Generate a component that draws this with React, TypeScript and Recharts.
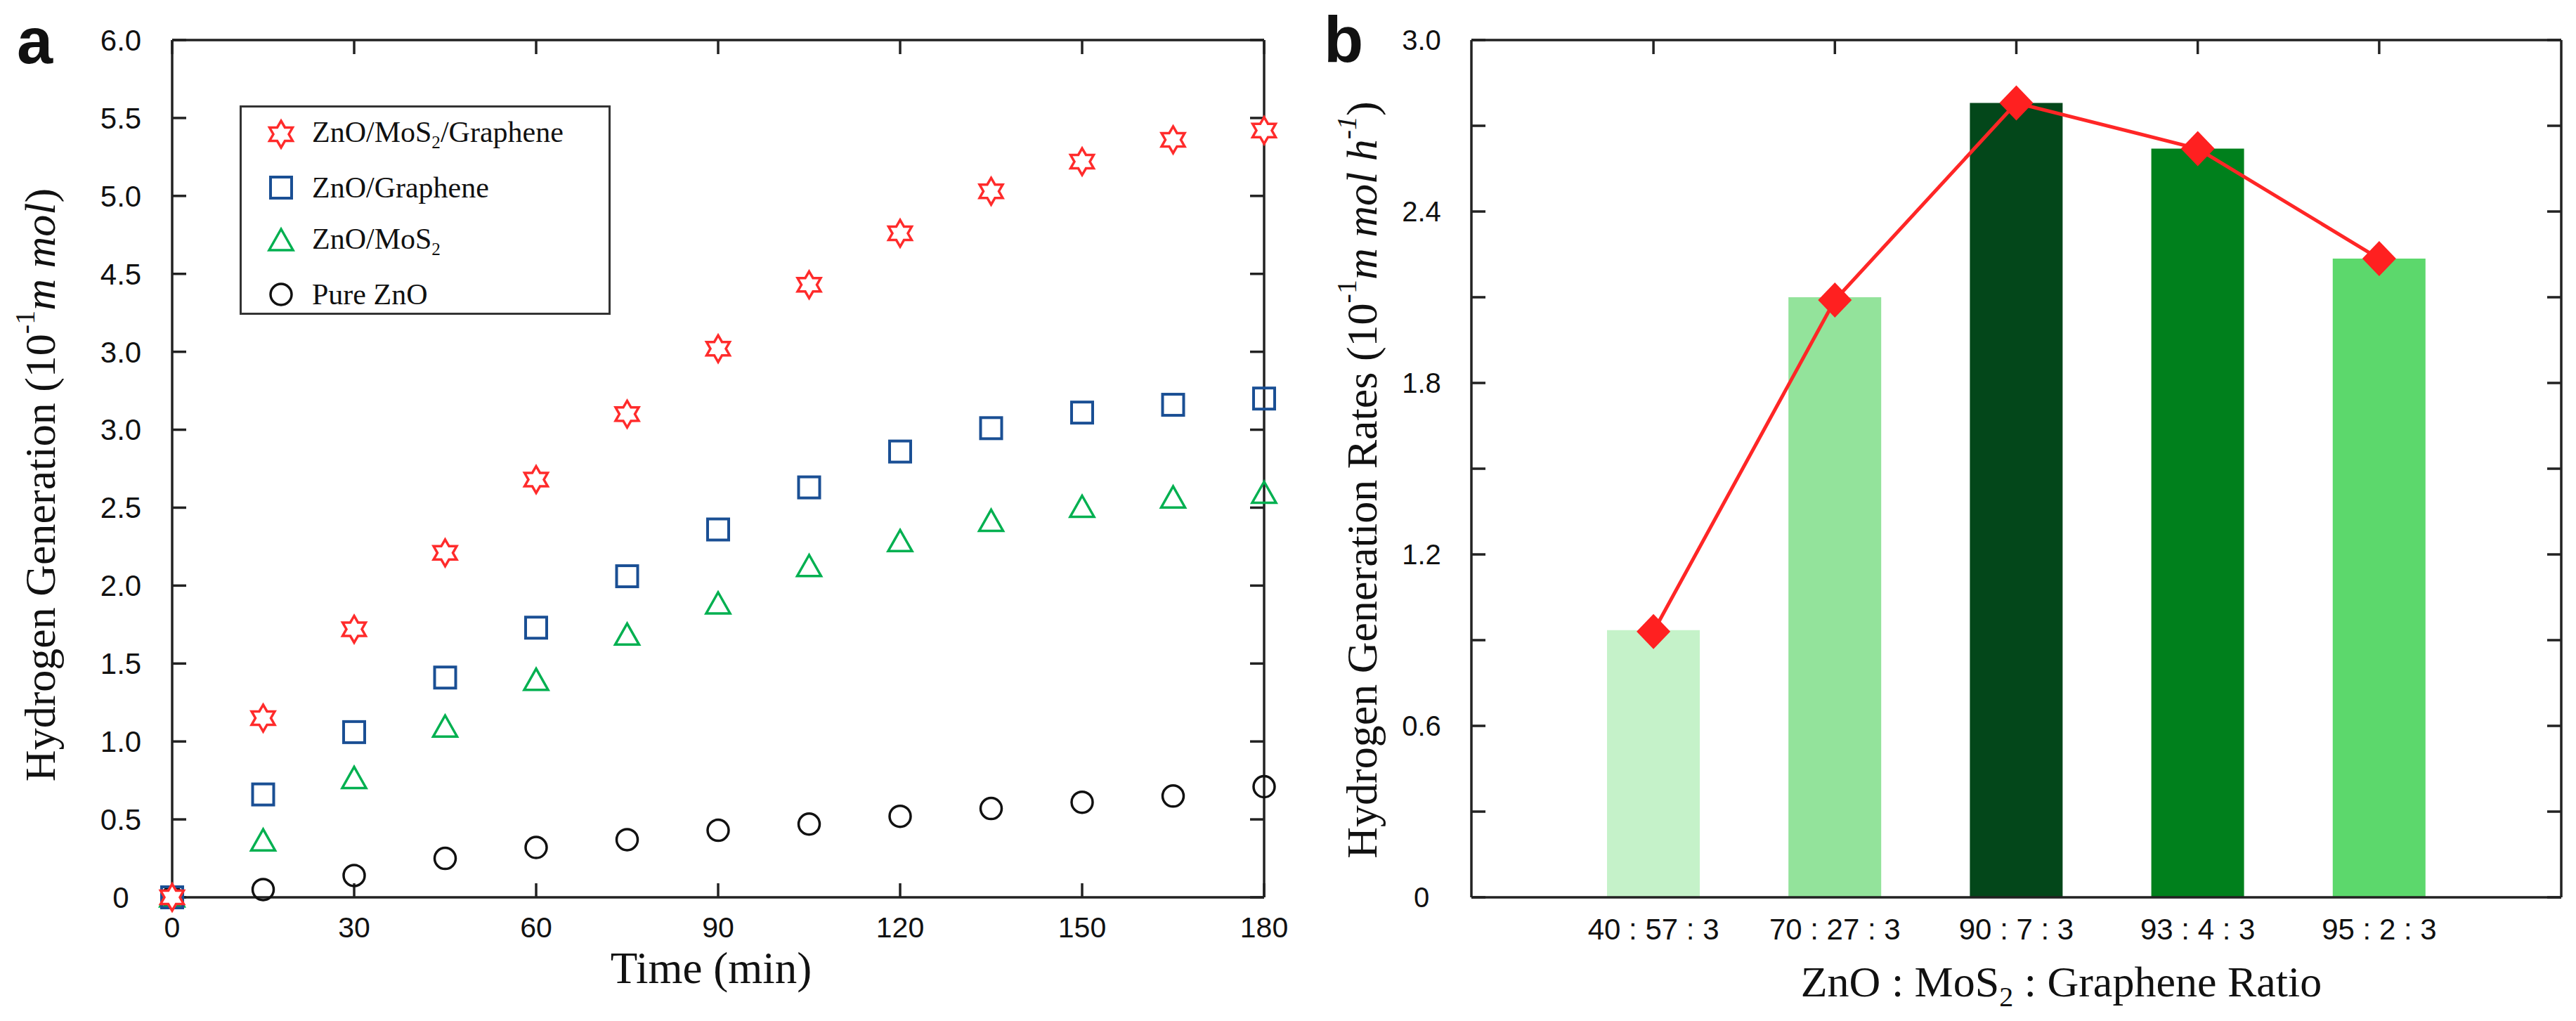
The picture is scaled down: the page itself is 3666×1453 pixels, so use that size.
import {
  ScatterChart,
  Scatter,
  ComposedChart,
  Bar,
  Line,
  Cell,
  XAxis,
  YAxis,
  Legend,
  Label,
} from "recharts";

// ---- panel a: hydrogen generation vs time ----
const times = [0, 15, 30, 45, 60, 75, 90, 105, 120, 135, 150, 165, 180];
// values are in axis position units (the printed labels skip 3.5/4.0, see yTickLabelsA)
const zmgValues = [0, 1.15, 1.72, 2.21, 2.68, 3.1, 3.52, 3.93, 4.26, 4.53, 4.72, 4.86, 4.92];
const zgValues = [0, 0.66, 1.06, 1.41, 1.73, 2.06, 2.36, 2.63, 2.86, 3.01, 3.11, 3.16, 3.2];
const zmValues = [0, 0.36, 0.76, 1.09, 1.39, 1.68, 1.88, 2.12, 2.28, 2.41, 2.5, 2.56, 2.59];
const znoValues = [0, 0.05, 0.14, 0.25, 0.32, 0.37, 0.43, 0.47, 0.52, 0.57, 0.61, 0.65, 0.71];
const xTicksA = [0, 30, 60, 90, 120, 150, 180];
const yTicksA = [0, 0.5, 1, 1.5, 2, 2.5, 3, 3.5, 4, 4.5, 5, 5.5];
const yTickLabelsA = ["0", "0.5", "1.0", "1.5", "2.0", "2.5", "3.0", "3.0", "4.5", "5.0", "5.5", "6.0"];

// ---- panel b: rates vs composition ----
const ratios = ["40 : 57 : 3", "70 : 27 : 3", "90 : 7 : 3", "93 : 4 : 3", "95 : 2 : 3"];
const rates = [0.935, 2.1, 2.78, 2.62, 2.235];
const rateMarkers = [0.93, 2.09, 2.78, 2.62, 2.235];
const barColors = ["#c5f2c9", "#93e39b", "#03471a", "#00801c", "#5cd86c"];
const yTicksB = [0, 0.3, 0.6, 0.9, 1.2, 1.5, 1.8, 2.1, 2.4, 2.7, 3.0];
const yTickLabelsB = ["0", "", "0.6", "", "1.2", "", "1.8", "", "2.4", "", "3.0"];

const SERIF = "'Liberation Serif', 'Times New Roman', serif";
const SANS = "'Liberation Sans', Arial, sans-serif";
const AXIS = "#222";

const RED = "#ff2b2b";
const BLUE = "#1a4f94";
const GREEN = "#00b050";

const toPoints = (vals: number[]) => times.map((t, i) => ({ t, v: vals[i] }));

const StarShape = ({ cx, cy }: any) => {
  const pts: string[] = [];
  for (let k = 0; k < 12; k++) {
    const r = k % 2 === 0 ? 19 : 11;
    const a = ((-90 + k * 30) * Math.PI) / 180;
    pts.push(`${cx + r * Math.cos(a)},${cy + r * Math.sin(a)}`);
  }
  return <polygon points={pts.join(" ")} fill="#fff" stroke={RED} strokeWidth={3.5} />;
};

const SquareShape = ({ cx, cy }: any) => (
  <rect x={cx - 15} y={cy - 15} width={30} height={30} fill="none" stroke={BLUE} strokeWidth={4} />
);

const TriangleShape = ({ cx, cy }: any) => (
  <polygon
    points={`${cx},${cy - 17} ${cx - 17},${cy + 13} ${cx + 17},${cy + 13}`}
    fill="none"
    stroke={GREEN}
    strokeWidth={3.5}
  />
);

const CircleShape = ({ cx, cy }: any) => (
  <circle cx={cx} cy={cy} r={15} fill="none" stroke="#111" strokeWidth={3.5} />
);

const legendItems = [
  { name: "zmg", Icon: StarShape, text: <>ZnO/MoS<sub style={{ fontSize: "0.6em" }}>2</sub>/Graphene</> },
  { name: "zg", Icon: SquareShape, text: <>ZnO/Graphene</> },
  { name: "zm", Icon: TriangleShape, text: <>ZnO/MoS<sub style={{ fontSize: "0.6em" }}>2</sub></> },
  { name: "zno", Icon: CircleShape, text: <>Pure ZnO</> },
];

const renderLegend = () => (
  <div
    style={{
      width: "100%",
      height: "100%",
      boxSizing: "border-box",
      border: "3px solid #333",
      background: "#fff",
    }}
  >
    {legendItems.map(({ name, Icon, text }) => (
      <div key={name} style={{ display: "flex", alignItems: "center", height: 76 }}>
        <svg width={100} height={50} style={{ display: "block" }}>
          <Icon cx={56} cy={25} />
        </svg>
        <span style={{ fontFamily: SERIF, fontSize: 42, color: "#111", lineHeight: 1 }}>{text}</span>
      </div>
    ))}
  </div>
);

const YLabelA = ({ viewBox }: any) => {
  const x = 57;
  const y = viewBox.y + viewBox.height / 2 + 23;
  return (
    <g>
      <text x={24} y={90} fontFamily={SANS} fontSize={92} fontWeight="bold" fill="#111">
        a
      </text>
      <text
        x={x}
        y={y}
        transform={`rotate(-90, ${x}, ${y})`}
        textAnchor="middle"
        dominantBaseline="central"
        fontFamily={SERIF}
        fontSize={62}
        fill="#111"
      >
        Hydrogen Generation (10
        <tspan dy={-22} fontSize={40}>-1</tspan>
        <tspan dy={22} fontStyle="italic">m mol</tspan>)
      </text>
    </g>
  );
};

const XLabelA = ({ viewBox }: any) => (
  <text
    x={viewBox.x + viewBox.width / 2 - 10}
    y={viewBox.y + 122}
    textAnchor="middle"
    fontFamily={SERIF}
    fontSize={63}
    fill="#111"
  >
    Time (min)
  </text>
);

const YLabelB = ({ viewBox }: any) => {
  const x = 98;
  const y = viewBox.y + viewBox.height / 2 + 16;
  return (
    <g>
      <text x={44} y={88} fontFamily={SANS} fontSize={92} fontWeight="bold" fill="#111">
        b
      </text>
      <text
        x={x}
        y={y}
        transform={`rotate(-90, ${x}, ${y})`}
        textAnchor="middle"
        dominantBaseline="central"
        fontFamily={SERIF}
        fontSize={62}
        fill="#111"
      >
        Hydrogen Generation Rates (10
        <tspan dy={-22} fontSize={40}>-1</tspan>
        <tspan dy={22} fontStyle="italic">m mol h</tspan>
        <tspan dy={-22} fontSize={40} fontStyle="italic">-1</tspan>
        <tspan dy={22}>)</tspan>
      </text>
    </g>
  );
};

const XLabelB = ({ viewBox }: any) => (
  <text
    x={viewBox.x + viewBox.width / 2 + 64}
    y={viewBox.y + 141}
    textAnchor="middle"
    fontFamily={SERIF}
    fontSize={62}
    fill="#111"
  >
    ZnO : MoS
    <tspan dy={14} fontSize={40}>2</tspan>
    <tspan dy={-14}> : Graphene Ratio</tspan>
  </text>
);

const Diamond = (props: any) => {
  const { cx, cy, index } = props;
  return (
    <polygon
      key={`d-${index}`}
      points={`${cx},${cy - 25} ${cx + 24},${cy} ${cx},${cy + 25} ${cx - 24},${cy}`}
      fill="#ff2020"
      stroke="none"
    />
  );
};

const lineStyle = { stroke: AXIS, strokeWidth: 3.5 };

function PanelA() {
  return (
    <ScatterChart width={1870} height={1453} margin={{ top: 56, right: 70, bottom: 0, left: 0 }}>
      <XAxis
        type="number"
        dataKey="t"
        domain={[0, 180]}
        ticks={xTicksA}
        height={176}
        axisLine={lineStyle}
        tickLine={lineStyle}
        tickSize={-20}
        tickMargin={48}
        tick={{ fontSize: 41, fontFamily: SANS, fill: "#111" }}
      >
        <Label content={XLabelA} />
      </XAxis>
      <XAxis
        xAxisId="top"
        orientation="top"
        type="number"
        dataKey="t"
        domain={[0, 180]}
        ticks={xTicksA}
        allowDataOverflow
        height={1}
        axisLine={lineStyle}
        tickLine={lineStyle}
        tickSize={-20}
        tickFormatter={() => ""}
      />
      <YAxis
        type="number"
        dataKey="v"
        domain={[0, 5.5]}
        ticks={yTicksA}
        width={245}
        axisLine={lineStyle}
        tickLine={lineStyle}
        tickSize={-20}
        tickMargin={93}
        tickFormatter={(_v: number, i: number) => yTickLabelsA[i]}
        tick={{ fontSize: 42, fontFamily: SANS, fill: "#111", textAnchor: "middle" }}
      >
        <Label content={YLabelA} />
      </YAxis>
      <YAxis
        yAxisId="right"
        orientation="right"
        type="number"
        dataKey="v"
        domain={[0, 5.5]}
        ticks={yTicksA}
        allowDataOverflow
        width={1}
        axisLine={lineStyle}
        tickLine={lineStyle}
        tickSize={-20}
        tickFormatter={() => ""}
      />
      <Legend
        layout="vertical"
        align="center"
        verticalAlign="middle"
        content={renderLegend}
        wrapperStyle={{ left: 341, top: 150, width: 528, height: 298 }}
      />
      <Scatter name="Pure ZnO" data={toPoints(znoValues)} shape={CircleShape} isAnimationActive={false} />
      <Scatter name="ZnO/MoS2" data={toPoints(zmValues)} shape={TriangleShape} isAnimationActive={false} />
      <Scatter name="ZnO/Graphene" data={toPoints(zgValues)} shape={SquareShape} isAnimationActive={false} />
      <Scatter name="ZnO/MoS2/Graphene" data={toPoints(zmgValues)} shape={StarShape} isAnimationActive={false} />
    </ScatterChart>
  );
}

function PanelB() {
  const data = ratios.map((ratio, i) => ({ ratio, rate: rates[i], marker: rateMarkers[i] }));
  return (
    <ComposedChart
      width={1826}
      height={1453}
      data={data}
      margin={{ top: 56, right: 20, bottom: 0, left: 0 }}
    >
      <XAxis
        dataKey="ratio"
        padding={{ left: 130, right: 130 }}
        height={176}
        axisLine={lineStyle}
        tickLine={false}
        tickSize={0}
        tickMargin={30}
        interval={0}
        tick={{ fontSize: 42, fontFamily: SANS, fill: "#111" }}
      >
        <Label content={XLabelB} />
      </XAxis>
      <XAxis
        xAxisId="top"
        orientation="top"
        dataKey="ratio"
        padding={{ left: 130, right: 130 }}
        height={1}
        axisLine={lineStyle}
        tickLine={lineStyle}
        tickSize={-20}
        interval={0}
        tickFormatter={() => ""}
      />
      <YAxis
        type="number"
        domain={[0, 3]}
        ticks={yTicksB}
        width={254}
        axisLine={lineStyle}
        tickLine={lineStyle}
        tickSize={-20}
        tickMargin={91}
        tickFormatter={(_v: number, i: number) => yTickLabelsB[i]}
        tick={{ fontSize: 40, fontFamily: SANS, fill: "#111", textAnchor: "middle" }}
      >
        <Label content={YLabelB} />
      </YAxis>
      <YAxis
        yAxisId="right"
        orientation="right"
        type="number"
        domain={[0, 3]}
        ticks={yTicksB}
        allowDataOverflow
        width={1}
        axisLine={lineStyle}
        tickLine={lineStyle}
        tickSize={-20}
        tickFormatter={() => ""}
      />
      <Bar dataKey="rate" barSize={132} isAnimationActive={false}>
        {barColors.map((c, i) => (
          <Cell key={i} fill={c} />
        ))}
      </Bar>
      <Line
        type="linear"
        dataKey="marker"
        stroke="#ff2626"
        strokeWidth={5}
        dot={Diamond}
        activeDot={false}
        isAnimationActive={false}
      />
    </ComposedChart>
  );
}

export default function App() {
  return (
    <div style={{ position: "absolute", left: 0, top: 0, width: 3666, height: 1453, background: "#fff" }}>
      <div style={{ position: "absolute", left: 0, top: 0 }}>
        <PanelA />
      </div>
      <div style={{ position: "absolute", left: 1840, top: 0 }}>
        <PanelB />
      </div>
    </div>
  );
}
